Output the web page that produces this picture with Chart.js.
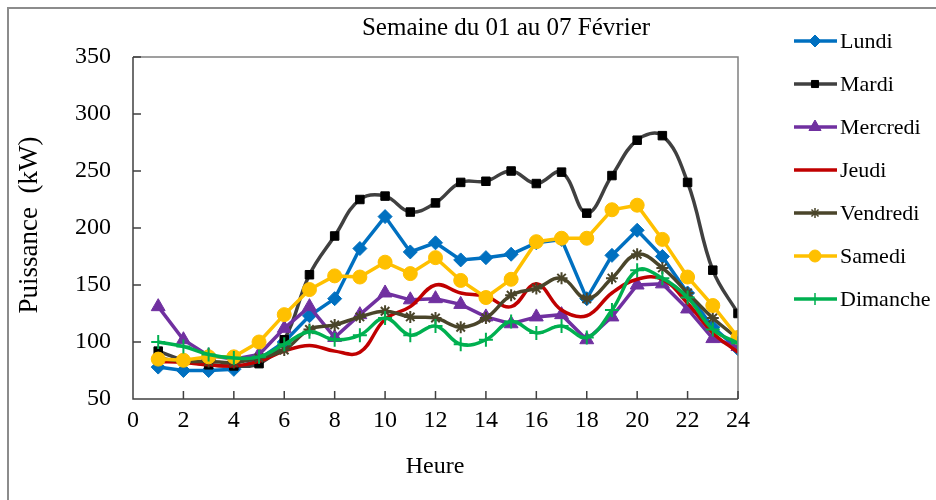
<!DOCTYPE html>
<html>
<head>
<meta charset="utf-8">
<script src="https://cdn.jsdelivr.net/npm/chart.js@4.4.1/dist/chart.umd.min.js"></script>
<style>
  html, body { margin: 0; padding: 0; background: #fff; }
  #wrap { width: 936px; height: 500px; }
</style>
</head>
<body>
<div id="wrap"><canvas id="puissance" width="936" height="500"></canvas></div>
<script>
// heures de la journee
const heures = [1,2,3,4,5,6,7,8,9,10,11,12,13,14,15,16,17,18,19,20,21,22,23,24];
const yTicks = [50,100,150,200,250,300,350];
const xTicks = [0,2,4,6,8,10,12,14,16,18,20,22,24];

// puissance (kW) par jour
const lundi    = [78,75,75,76,85,100,123,138,182,210,179,187,172,174,177,187,190,138,176,198,175,143,113,94];
const mardi    = [92,84,80,79,81,102,159,193,225,228,214,222,240,241,250,239,249,213,246,277,281,240,163,125];
const mercredi = [131,102,88,85,89,112,131,104,124,143,137,138,133,122,116,122,124,102,122,150,151,129,103,96];
const jeudi    = [83,82,80,79,83,92,97,92,91,120,131,150,143,140,131,151,128,123,143,155,155,134,108,91];
const vendredi = [86,83,83,82,86,93,111,115,122,127,122,121,113,121,141,147,156,138,156,177,165,143,121,103];
const samedi   = [85,84,87,87,100,124,146,158,157,170,160,174,154,139,155,188,191,191,216,220,190,157,132,104];
const dimanche = [100,96,89,86,87,98,109,102,106,121,106,114,98,102,118,108,114,104,128,163,156,139,111,99];

const serif = '"Liberation Serif", "Times New Roman", serif';

const series = [
  { label: 'Lundi',    values: lundi,    line: '#0070C0', fill: '#0070C0', style: 'rectRot',  radius: 7, tension: 0 },
  { label: 'Mardi',    values: mardi,    line: '#404040', fill: '#000000', style: 'rect',     radius: 6, tension: 0.4 },
  { label: 'Mercredi', values: mercredi, line: '#7030A0', fill: '#7030A0', style: 'triangle', radius: 8, tension: 0 },
  { label: 'Jeudi',    values: jeudi,    line: '#C00000', fill: '#C00000', style: false,      radius: 0, tension: 0.4 },
  { label: 'Vendredi', values: vendredi, line: '#4A452A', fill: '#4A452A', style: 'star',     radius: 6, tension: 0.4 },
  { label: 'Samedi',   values: samedi,   line: '#FFC000', fill: '#FFC000', style: 'circle',   radius: 7, tension: 0 },
  { label: 'Dimanche', values: dimanche, line: '#00B050', fill: '#00B050', style: 'cross',    radius: 7, tension: 0.4 }
];

const datasets = series.map((s, i) => ({
  label: s.label,
  data: heures.map((h, k) => ({ x: h, y: s.values[k] })),
  borderColor: s.line,
  borderWidth: 3.5,
  tension: s.tension,
  pointStyle: s.style,
  pointRadius: s.radius,
  pointBackgroundColor: s.fill,
  pointBorderColor: s.fill,
  pointBorderWidth: (s.style === 'cross' || s.style === 'star') ? 2 : 1,
  order: 6 - i
}));

// cadre, graduations interieures, titres et legende
const decor = {
  id: 'decor',
  beforeDraw(chart) {
    const ctx = chart.ctx;
    ctx.save();
    ctx.fillStyle = '#fff';
    ctx.fillRect(0, 0, chart.width, chart.height);
    ctx.strokeStyle = '#8c8c8c';
    ctx.lineWidth = 2;
    ctx.strokeRect(8, 8, 1200, 1200);
    ctx.restore();
  },
  afterDraw(chart) {
    const ctx = chart.ctx;
    const a = chart.chartArea;
    const xs = chart.scales.x, ys = chart.scales.y;
    ctx.save();
    ctx.strokeStyle = '#808080';
    ctx.lineWidth = 1.5;
    ctx.beginPath();
    ctx.moveTo(a.left, a.top); ctx.lineTo(a.right, a.top); ctx.lineTo(a.right, a.bottom);
    ctx.stroke();
    ctx.strokeStyle = '#404040';
    ctx.beginPath();
    ctx.moveTo(a.left, a.top); ctx.lineTo(a.left, a.bottom); ctx.lineTo(a.right, a.bottom);
    xTicks.forEach(v => { const px = xs.getPixelForValue(v); ctx.moveTo(px, a.bottom); ctx.lineTo(px, a.bottom - 8); });
    yTicks.forEach(v => { const py = ys.getPixelForValue(v); ctx.moveTo(a.left, py); ctx.lineTo(a.left + 8, py); });
    ctx.stroke();

    ctx.fillStyle = '#000';
    ctx.textAlign = 'center';
    ctx.textBaseline = 'alphabetic';
    ctx.font = '25px ' + serif;
    ctx.fillText('Semaine du 01 au 07 Février', 506, 35);
    ctx.font = '24px ' + serif;
    ctx.fillText('Heure', 435, 473);
    ctx.save();
    ctx.translate(30, 225);
    ctx.rotate(-Math.PI / 2);
    ctx.textBaseline = 'middle';
    ctx.font = '27px ' + serif;
    ctx.fillText('Puissance  (kW)', 0, 0);
    ctx.restore();

    // legende
    ctx.textAlign = 'left';
    ctx.font = '22px ' + serif;
    series.forEach((s, i) => {
      const y = 41 + i * 43;
      ctx.strokeStyle = s.line;
      ctx.lineWidth = 3.5;
      ctx.beginPath();
      ctx.moveTo(794, y); ctx.lineTo(837, y);
      ctx.stroke();
      if (s.style) {
        ctx.fillStyle = s.fill;
        ctx.strokeStyle = s.fill;
        ctx.lineWidth = (s.style === 'cross' || s.style === 'star') ? 1.5 : 1;
        Chart.helpers.drawPoint(ctx, { pointStyle: s.style, radius: s.radius - 1, rotation: 0, borderWidth: ctx.lineWidth }, 815, y);
      }
      ctx.fillStyle = '#000';
      ctx.fillText(s.label, 840, y + 7);
    });
    ctx.restore();
  }
};

new Chart(document.getElementById('puissance'), {
  type: 'line',
  data: { datasets: datasets },
  options: {
    responsive: false,
    animation: false,
    layout: { padding: { left: 0, top: 57, right: 198, bottom: 0 } },
    plugins: { legend: { display: false }, title: { display: false }, tooltip: { enabled: false } },
    scales: {
      x: {
        type: 'linear', min: 0, max: 24,
        grid: { display: false, drawTicks: false },
        border: { display: false },
        ticks: { stepSize: 2, padding: 7, color: '#000', font: { family: serif, size: 24 } },
        afterFit(scale) { scale.height = 101; }
      },
      y: {
        min: 50, max: 350,
        grid: { display: false, drawTicks: false },
        border: { display: false },
        ticks: { stepSize: 50, padding: 22, color: '#000', font: { family: serif, size: 24 } },
        afterFit(scale) { scale.width = 133; }
      }
    }
  },
  plugins: [decor]
});
</script>
</body>
</html>
